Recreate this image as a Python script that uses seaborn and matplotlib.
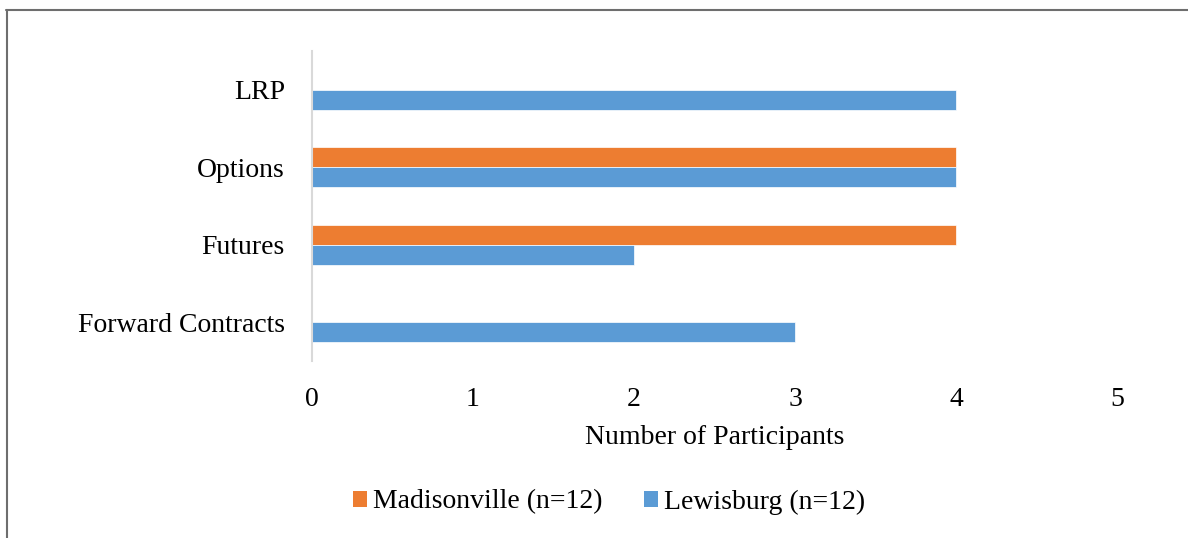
import matplotlib
matplotlib.use("Agg")
import matplotlib.pyplot as plt
import seaborn as sns
import pandas as pd
from matplotlib.lines import Line2D
from matplotlib.patches import Patch

categories = ["LRP", "Options", "Futures", "Forward Contracts"]
madisonville = [0, 4, 4, 0]
lewisburg = [4, 4, 2, 3]
series_names = ["Madisonville (n=12)", "Lewisburg (n=12)"]
x_ticks = [0, 1, 2, 3, 4, 5]
x_label = "Number of Participants"

colors = ["#ED7D31", "#5B9BD5"]

sns.set_theme(style="white")
plt.rcParams["font.family"] = ["Liberation Serif", "DejaVu Serif"]
plt.rcParams["text.color"] = "black"
plt.rcParams["axes.labelcolor"] = "black"

df = pd.DataFrame({
    "category": categories * 2,
    "value": madisonville + lewisburg,
    "series": [series_names[0]] * 4 + [series_names[1]] * 4,
})

fig = plt.figure(figsize=(11.88, 5.38), dpi=100)
ax = fig.add_axes([312 / 1188, 1 - 361 / 538, (1117 - 312) / 1188, (361 - 51) / 538])

sns.barplot(data=df, x="value", y="category", hue="series", order=categories,
            hue_order=series_names, palette=colors, orient="h", width=0.52,
            ax=ax, legend=False, saturation=1, edgecolor="white", linewidth=0.5)

ax.set_xlim(0, 5)
ax.set_ylim(3.5, -0.5)
ax.set_xticks(x_ticks)
ax.set_xticklabels([str(t) for t in x_ticks])
ax.tick_params(axis="both", length=0, labelsize=20, colors="black")
ax.tick_params(axis="x", pad=19)
ax.tick_params(axis="y", pad=19.5)
ax.set_xlabel(x_label, fontsize=20, labelpad=9, color="black")
ax.set_ylabel("")
for s in ["top", "right", "bottom"]:
    ax.spines[s].set_visible(False)
ax.spines["left"].set_color("#d9d9d9")
ax.spines["left"].set_linewidth(1.5)
ax.grid(False)

handles = [Patch(facecolor=c, edgecolor="none") for c in colors]
fig.legend(handles, series_names, loc="center", bbox_to_anchor=(609 / 1188, 1 - 502 / 538),
           ncol=2, frameon=False, fontsize=20, handlelength=0.5, handleheight=0.5,
           handletextpad=0.22, columnspacing=1.5, labelcolor="black")

fig.add_artist(Line2D([6 / 1188, 1], [1 - 9.5 / 538, 1 - 9.5 / 538], transform=fig.transFigure,
                      color="#6e6e6e", linewidth=1.5))
fig.add_artist(Line2D([6.5 / 1188, 6.5 / 1188], [0, 1 - 9.5 / 538], transform=fig.transFigure,
                      color="#6e6e6e", linewidth=1.5))

fig.savefig("out.png", dpi=100)
